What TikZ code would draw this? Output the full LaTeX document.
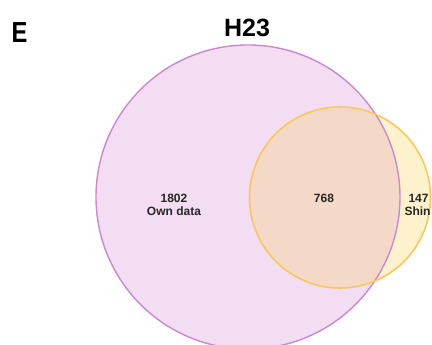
\documentclass[tikz,border=0pt]{standalone}
\usepackage{fontspec}
\setmainfont{Liberation Sans}
\definecolor{pinkfill}{RGB}{242,221,242}
\definecolor{pinkline}{RGB}{205,135,205}
\definecolor{yelfill}{RGB}{254,242,205}
\definecolor{yelline}{RGB}{248,200,90}
\definecolor{overfill}{RGB}{245,217,200}
\tikzset{
  lbl/.style={font=\bfseries\fontsize{12}{13}\selectfont, align=center, text=black!85},
  ttl/.style={font=\bfseries\fontsize{25}{27}\selectfont, text=black}
}
\begin{document}
\begin{tikzpicture}[x=1pt,y=-1pt]
\useasboundingbox (0,0) rectangle (432,345);
\begin{scope}
\clip (0,0) rectangle (432,345);
\fill[pinkfill] (248,197) circle (152);
\fill[yelfill] (340,197.5) circle (90.5);
\begin{scope}
\clip (248,197) circle (152);
\fill[overfill] (340,197.5) circle (90.5);
\end{scope}
\draw[pinkline, line width=1.4] (248,197) circle (152);
\draw[yelline, line width=1.6] (340,197.5) circle (90.5);
\end{scope}
\node[ttl] (title) at (247,28) {H23};
\node[font=\bfseries\fontsize{29}{30}\selectfont, xscale=0.82] (letter) at (19.5,33) {E};
\node[lbl] (own) at (174,205) {1802\\Own data};
\node[lbl] (both) at (324,198) {768};
\node[lbl, anchor=west] (shin) at (401,205) {\,147\\Shin};
\end{tikzpicture}
\end{document}
